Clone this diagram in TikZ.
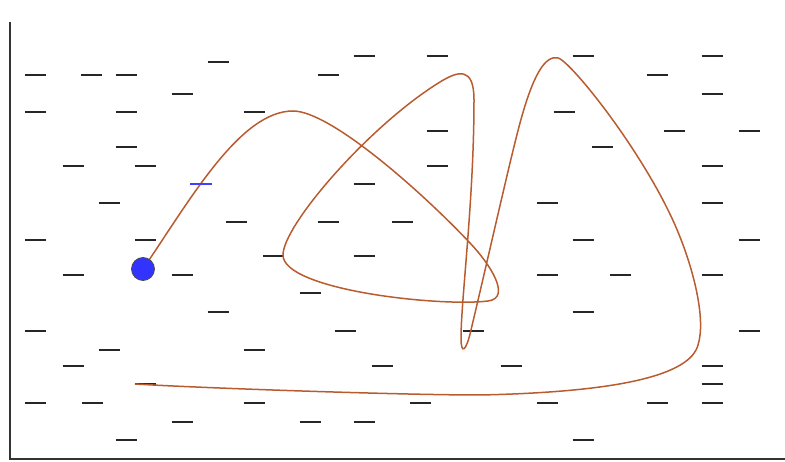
\documentclass[tikz,border=0pt]{standalone}
\begin{document}
\begin{tikzpicture}[x=1pt,y=-1pt,
  axisline/.style={draw=black!80,line width=2pt},
  dashmark/.style={draw=black!85,line width=2pt},
  bluemark/.style={draw=blue!75,line width=1.3pt},
  curveline/.style={draw={rgb,255:red,184;green,92;blue,48},line width=1.5pt},
  dotstyle/.style={circle,fill={rgb,255:red,51;green,51;blue,255},draw=black!70,line width=0.8pt,minimum width=21pt,minimum height=23pt,inner sep=0pt}]
\useasboundingbox (0,0) rectangle (785,462);
\draw[axisline] (10,22) -- (10,459) -- (785,459);
\foreach \x/\y in {35/75,91/75,126/75,218/62,182/94,328/75,364/56,35/112,126/112,254/112,
  126/147,73/166,145/166,109/203,364/184,236/222,328/222,402/222,35/240,145/240,
  437/56,583/56,712/56,657/75,712/94,564/112,437/131,674/131,749/131,602/147,
  437/166,712/166,547/203,712/203,583/240,749/240,
  273/256,364/256,73/275,182/275,310/293,218/312,35/331,345/331,109/350,254/350,
  73/366,382/366,145/384,35/403,92/403,254/403,182/422,310/422,364/422,126/440,
  547/275,620/275,712/275,583/312,473/331,749/331,511/366,712/366,712/384,
  420/403,547/403,657/403,712/403,583/440}
  \draw[dashmark] (\x-10.5,\y) -- (\x+10.5,\y);
\coordinate (s) at (143,269);
\coordinate (e) at (135,384);
\draw[curveline] (s)
  .. controls (190,200) and (240,111) .. (293,111)
  .. controls (330,111) and (420,190) .. (470,243)
  .. controls (490,264) and (512,298) .. (488,301)
  .. controls (440,307) and (283,290) .. (283,255)
  .. controls (283,225) and (370,125) .. (440,82)
  .. controls (458,71) and (474,66) .. (474,100)
  .. controls (474,200) and (461,300) .. (461,338)
  .. controls (461,355) and (466,352) .. (471,330)
  .. controls (490,250) and (510,160) .. (520,123)
  .. controls (533,75) and (545,55) .. (558,58)
  .. controls (571,61) and (650,160) .. (680,237)
  .. controls (694,272) and (706,320) .. (698,345)
  .. controls (690,375) and (620,392) .. (480,395)
  .. controls (400,395) and (200,388) .. (e);
\draw[bluemark] (190,184) -- (212,184);
\node[dotstyle] (dot) at (s) {};
\end{tikzpicture}
\end{document}
